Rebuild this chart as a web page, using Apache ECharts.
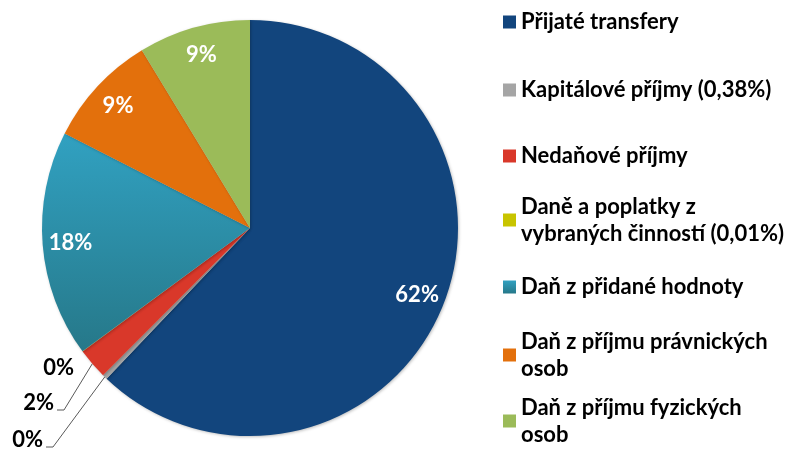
<!DOCTYPE html>
<html>
<head>
<meta charset="utf-8">
<script src="https://cdn.jsdelivr.net/npm/echarts@6/dist/echarts.min.js"></script>
<style>
  html, body { margin: 0; padding: 0; background: #fff; }
  #chart { width: 796px; height: 458px; }
</style>
</head>
<body>
<div id="chart"></div>
<script>
// podíly příjmů v %
var names = [
  'Přijaté transfery',
  'Kapitálové příjmy (0,38%)',
  'Nedaňové příjmy',
  'Daně a poplatky z vybraných činností (0,01%)',
  'Daň z přidané hodnoty',
  'Daň z příjmu právnických osob',
  'Daň z příjmu fyzických osob'
]
var values = [62.11, 0.38, 2.4, 0.01, 17.6, 8.8, 8.7]
// zalomení textu v legendě
var legendLines = [
  ['Přijaté transfery'],
  ['Kapitálové příjmy (0,38%)'],
  ['Nedaňové příjmy'],
  ['Daně a poplatky z', 'vybraných činností (0,01%)'],
  ['Daň z přidané hodnoty'],
  ['Daň z příjmu právnických', 'osob'],
  ['Daň z příjmu fyzických', 'osob']
]
var legendCenters = [22, 90, 156, 220, 287, 355, 421]
// pravý okraj a střed popisků malých výsečí
var smallLabelPos = { 1: [43, 440], 2: [54, 403], 3: [74, 368] }

var colors = [
  '#12457d',
  '#a5a5a5',
  '#d9382a',
  '#c8c400',
  new echarts.graphic.LinearGradient(0, 0, 0, 1, [
    { offset: 0, color: '#31a1c1' },
    { offset: 1, color: '#267889' }
  ]),
  '#e3700c',
  '#9bbb59'
]

var font = 'Lato, "Open Sans", sans-serif'
var lh = 27
var fs = 22

var chart = echarts.init(document.getElementById('chart'))

var pieData = names.map(function (n, i) {
  return { name: n, value: values[i], itemStyle: { color: colors[i] } }
})

var legends = names.map(function (n, i) {
  var lines = legendLines[i]
  var twoLines = lines.length > 1
  return {
    orient: 'vertical',
    left: 503,
    top: twoLines ? legendCenters[i] - 1.5 * lh : legendCenters[i] - lh / 2,
    padding: 0,
    itemWidth: 13,
    itemHeight: 13,
    selectedMode: false,
    icon: 'rect',
    data: [{
      name: n,
      textStyle: twoLines ? { padding: [lh, 0, 0, 0] } : {}
    }],
    formatter: function () { return lines.join('\n') },
    textStyle: {
      fontFamily: font,
      fontWeight: 'bold',
      fontSize: fs,
      lineHeight: lh,
      color: '#000'
    }
  }
})

var option = {
  animation: false,
  legend: legends,
  series: [
    {
      type: 'pie',
      center: [250, 228],
      radius: 208,
      startAngle: 90,
      clockwise: true,
      avoidLabelOverlap: false,
      itemStyle: {
        shadowBlur: 3,
        shadowColor: 'rgba(0,0,0,0.25)',
        shadowOffsetX: 1,
        shadowOffsetY: 1
      },
      label: {
        show: true,
        position: 'outside',
        fontFamily: font,
        fontWeight: 'bold',
        fontSize: fs,
        color: '#000',
        formatter: function (p) {
          return smallLabelPos[p.dataIndex] ? Math.round(p.value) + '%' : ''
        }
      },
      labelLine: {
        show: true,
        length: 10,
        length2: 10,
        lineStyle: { color: '#595959', width: 1 }
      },
      labelLayout: function (p) {
        var pos = smallLabelPos[p.dataIndex]
        if (!pos) return {}
        var res = { x: pos[0], y: pos[1], align: 'right', verticalAlign: 'middle' }
        if (p.labelLinePoints) {
          var start = p.labelLinePoints[0]
          res.labelLinePoints = [
            start,
            [pos[0] + 10, pos[1] + 7],
            [pos[0] + 3, pos[1] + 7]
          ]
        }
        return res
      },
      data: pieData.map(function (d, i) {
        var item = Object.assign({}, d)
        if (!smallLabelPos[i]) {
          item.label = { show: false }
          item.labelLine = { show: false }
        }
        if (i === 3) item.labelLine = { show: false }
        return item
      })
    },
    {
      // jen popisky uvnitř výsečí
      type: 'pie',
      silent: true,
      center: [250, 228],
      radius: [146, 208],
      startAngle: 90,
      clockwise: true,
      itemStyle: { color: 'rgba(0,0,0,0)' },
      label: {
        show: true,
        position: 'inside',
        fontFamily: font,
        fontWeight: 'bold',
        fontSize: fs,
        color: '#fff',
        formatter: function (p) {
          return smallLabelPos[p.dataIndex] ? '' : Math.round(p.value) + '%'
        }
      },
      labelLine: { show: false },
      data: names.map(function (n, i) {
        return { name: n, value: values[i] }
      })
    }
  ]
}

chart.setOption(option)
</script>
</body>
</html>
